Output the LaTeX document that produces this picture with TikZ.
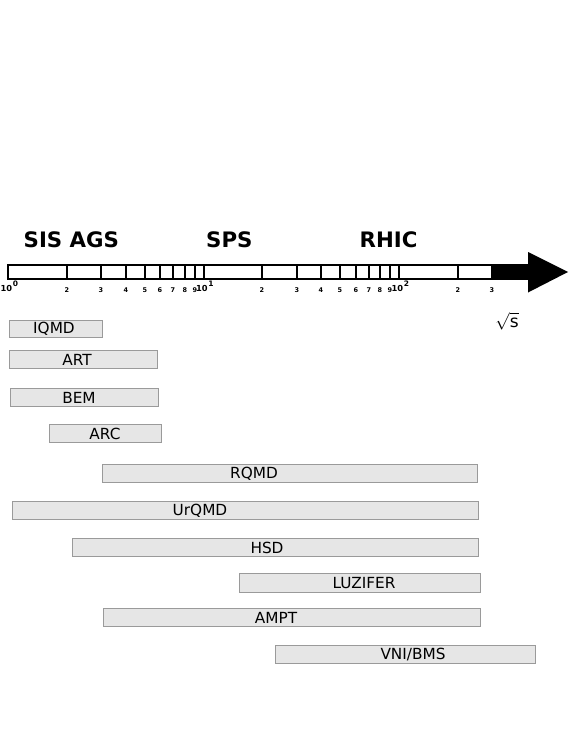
\documentclass[tikz,border=0pt]{standalone}
\usepackage{fontspec}
\setmainfont{DejaVu Sans}
\definecolor{barfill}{HTML}{E6E6E6}
\definecolor{barline}{HTML}{9A9A9A}
\begin{document}
\begin{tikzpicture}[x=1pt,y=-1pt,
  modelbar/.style={draw=barline, fill=barfill, line width=0.9pt},
  lbl/.style={font=\fontsize{15.3}{17}\selectfont, inner sep=0pt, text=black},
  big/.style={font=\bfseries\fontsize{21.3}{24}\selectfont, inner sep=0pt, anchor=base west},
  ticklbl/.style={font=\bfseries\fontsize{6.5}{7}\selectfont, inner sep=0pt},
  tenlbl/.style={font=\bfseries\fontsize{8.3}{9}\selectfont, inner sep=0pt},
  suplbl/.style={font=\bfseries\fontsize{7.5}{8}\selectfont, inner sep=0pt}]
\useasboundingbox (0,0) rectangle (581,752);
% axis bar
\def\dec{195.5}
\draw[line width=2pt] (8,265) rectangle (492,279);
\foreach \d in {0,1,2}{
  \foreach \k in {2,...,9}{
    \pgfmathsetmacro{\xx}{round(8+\dec*\d+\dec*log10(\k))}
    \pgfmathparse{\xx<493 ? 1 : 0}
    \ifnum\pgfmathresult=1
      \draw[line width=2pt] (\xx,265) -- (\xx,279);
      \node[ticklbl] at (\xx,290) {\k};
    \fi
  }
}
\foreach \d in {1,2}{
  \draw[line width=2pt] ({round(8+\dec*\d)},265) -- ({round(8+\dec*\d)},279);
}
% decade labels
\node[tenlbl, anchor=east] (t0) at (12.3,288.5) {10};
\node[suplbl, anchor=west] (s0) at (12.6,283.5) {0};
\node[tenlbl, anchor=east] (t1) at (207.8,288.5) {10};
\node[suplbl, anchor=west] (s1) at (208.1,283.5) {1};
\node[tenlbl, anchor=east] (t2) at (403.3,288.5) {10};
\node[suplbl, anchor=west] (s2) at (403.6,283.5) {2};
% arrow head
\fill (492,264) rectangle (528,280);
\fill (528,252) -- (568,272) -- (528,292.5) -- cycle;
% accelerator labels
\node[big] (sis) at (23.5,247.5) {SIS AGS};
\node[big] (sps) at (206,247.5) {SPS};
\node[big] (rhic) at (359.5,247.5) {RHIC};
% sqrt s
\node[font=\fontsize{17}{19}\selectfont, inner sep=0pt] (sqrts) at (507,321.5) {$\sqrt{\mbox{s}}$};
% model bars
\foreach \nm/\xa/\xb/\ya/\yb/\tx/\txt in {
  iqmd/9/102/320/337/54/{IQMD},
  art/9/157/350/368/77/{ART},
  bem/10/158/388/406/79/{BEM},
  arc/49/161/424/442/105/{ARC},
  rqmd/102/477/464/482/254/{RQMD},
  urqmd/12/478/501/519/200/{UrQMD},
  hsd/72/478/538/556/267/{HSD},
  luzifer/239/480/573/592/364/{LUZIFER},
  ampt/103/480/608/626/276/{AMPT},
  vni/275/535/645/663/413/{VNI/BMS}}{
  \node[modelbar, inner sep=0pt, anchor=north west, minimum width={(\xb-\xa)*1pt}, minimum height={(\yb-\ya)*1pt}] (\nm) at (\xa,\ya) {};
  \node[lbl] (\nm-t) at (\tx,{(\ya+\yb)/2+0.5}) {\txt};
}
\end{tikzpicture}
\end{document}
